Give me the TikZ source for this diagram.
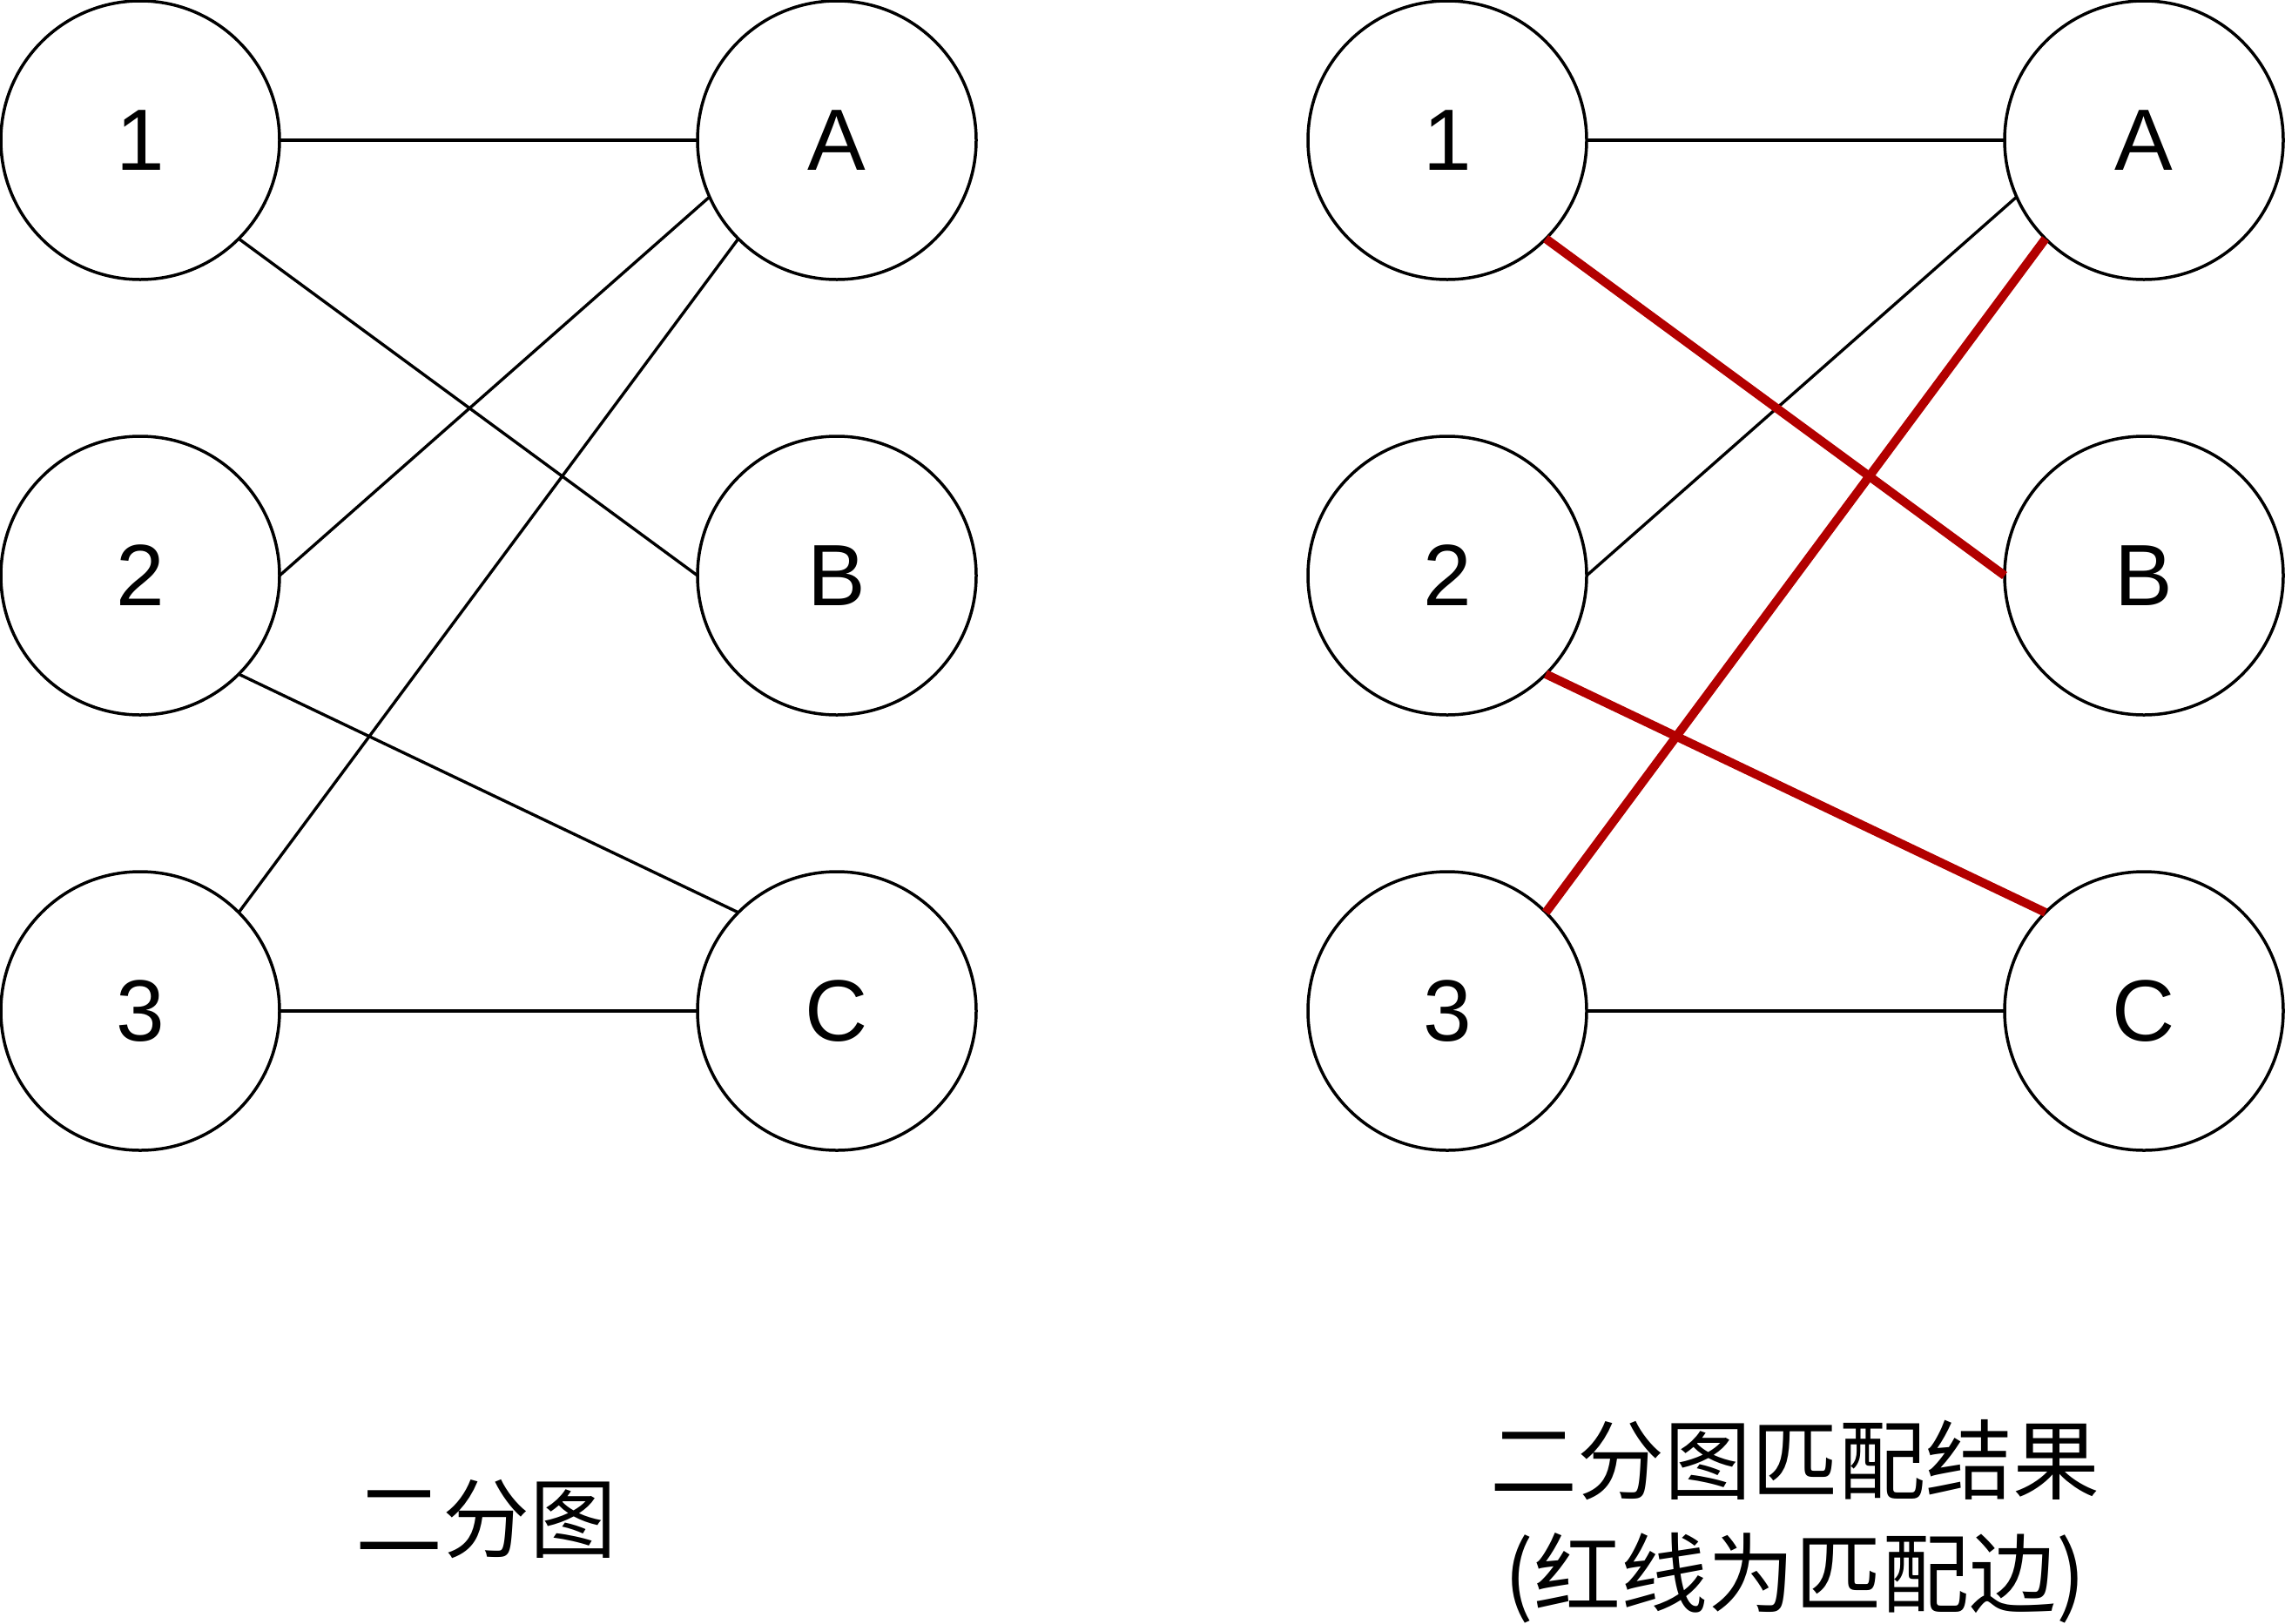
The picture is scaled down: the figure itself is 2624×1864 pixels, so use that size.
\documentclass[tikz,border=0pt]{standalone}
\usepackage{fontspec}
\setmainfont{Liberation Sans}
\newfontfamily\cjk{Noto Sans CJK SC}
\definecolor{matchred}{HTML}{B20000}
\begin{document}
\begin{tikzpicture}[x=1pt,y=-1pt,
  vert/.style={circle,draw=black,line width=3.5pt,minimum size=320pt,inner sep=0pt,outer sep=0pt,font=\fontsize{100}{120}\selectfont},
  edge/.style={line width=3.4pt,draw=black},
  redge/.style={line width=10pt,draw=matchred},
  lbl/.style={font=\cjk\fontsize{100}{130}\selectfont,align=center}]
\useasboundingbox (0,0) rectangle (2624,1864);
% left graph
\node[vert] (l1) at (161,161) {1};
\node[vert] (l2) at (161,661) {2};
\node[vert] (l3) at (161,1161) {3};
\node[vert] (lA) at (961,161) {A};
\node[vert] (lB) at (961,661) {B};
\node[vert] (lC) at (961,1161) {C};
\draw[edge] (l1.east) -- (lA.west);
\draw[edge] (l1.-45) -- (lB.west);
\draw[edge] (l2.east) -- (lA.204);
\draw[edge] (l2.-45) -- (lC.135);
\draw[edge] (l3.45) -- (lA.225);
\draw[edge] (l3.east) -- (lC.west);
% right graph
\node[vert] (r1) at (1662,161) {1};
\node[vert] (r2) at (1662,661) {2};
\node[vert] (r3) at (1662,1161) {3};
\node[vert] (rA) at (2462,161) {A};
\node[vert] (rB) at (2462,661) {B};
\node[vert] (rC) at (2462,1161) {C};
\draw[edge] (r1.east) -- (rA.west);
\draw[edge] (r2.east) -- (rA.204);
\draw[edge] (r3.east) -- (rC.west);
\draw[redge] (r1.-45) -- (rB.west);
\draw[redge] (r2.-45) -- (rC.135);
\draw[redge] (r3.45) -- (rA.225);
% captions
\node[lbl] (cap1) at (558,1745) {二分图};
\node[lbl] (cap2) at (2061,1747) {二分图匹配结果\\(红线为匹配边)};
\end{tikzpicture}
\end{document}
